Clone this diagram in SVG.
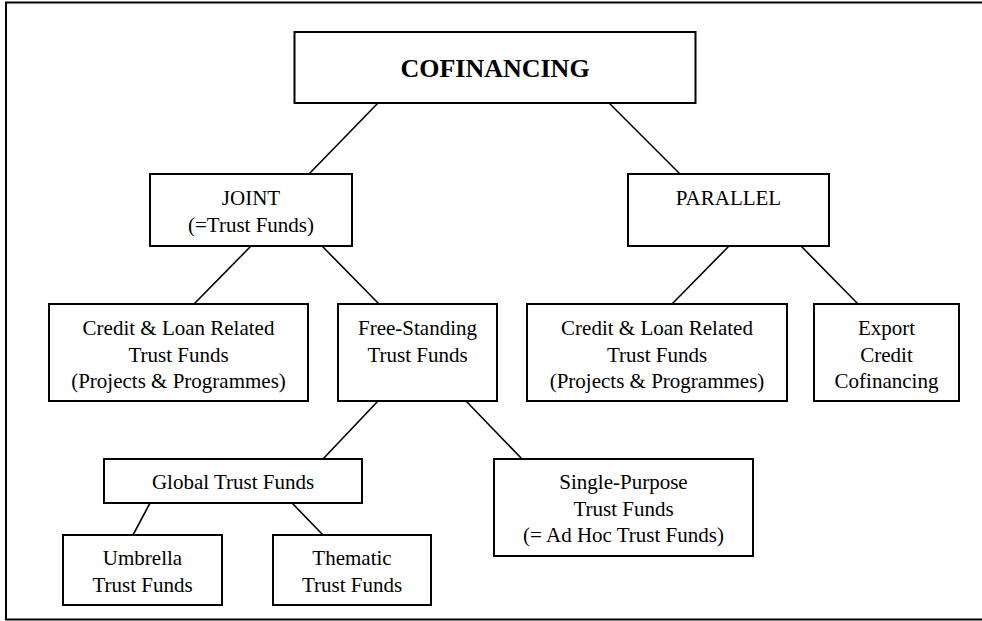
<svg xmlns="http://www.w3.org/2000/svg" width="982" height="621" viewBox="0 0 982 621">
<style>
.b{fill:#fff;stroke:#000;stroke-width:2}
.t{font-family:"Liberation Serif","Times New Roman",serif;font-size:21px;fill:#000;text-anchor:middle}
.h{font-family:"Liberation Serif","Times New Roman",serif;font-size:26px;font-weight:bold;fill:#000;text-anchor:middle}
.c line{stroke:#000;stroke-width:1.6}
</style>
<rect x="0" y="0" width="982" height="621" fill="#fff"/>
<rect x="6" y="2.5" width="980" height="617" fill="none" stroke="#000" stroke-width="2"/>
<g class="c" id="connectors">
<line x1="378" y1="103" x2="309" y2="174"/>
<line x1="609" y1="103" x2="680" y2="174"/>
<line x1="251" y1="246" x2="194" y2="304"/>
<line x1="322" y1="246" x2="379" y2="304"/>
<line x1="729" y1="246" x2="672" y2="304"/>
<line x1="801" y1="246" x2="858" y2="304"/>
<line x1="378" y1="401" x2="323" y2="459"/>
<line x1="466" y1="401" x2="522" y2="459"/>
<line x1="150" y1="503" x2="133" y2="535"/>
<line x1="292" y1="503" x2="323" y2="535"/>
</g>
<g id="cofinancing"><rect class="b" x="294.5" y="32" width="401" height="71"/><text class="h" x="495" y="77">COFINANCING</text></g>
<g id="joint"><rect class="b" x="150" y="174" width="202" height="72"/><text class="t" x="251" y="205">JOINT</text><text class="t" x="251" y="232">(=Trust Funds)</text></g>
<g id="parallel"><rect class="b" x="628" y="174" width="201" height="72"/><text class="t" x="728.5" y="205">PARALLEL</text></g>
<g id="credit-joint"><rect class="b" x="49" y="304" width="259" height="97"/><text class="t" x="178.5" y="335">Credit &amp; Loan Related</text><text class="t" x="178.5" y="361.5">Trust Funds</text><text class="t" x="178.5" y="388">(Projects &amp; Programmes)</text></g>
<g id="free-standing"><rect class="b" x="338" y="304" width="159" height="97"/><text class="t" x="417.5" y="335">Free-Standing</text><text class="t" x="417.5" y="361.5">Trust Funds</text></g>
<g id="credit-parallel"><rect class="b" x="527" y="304" width="260" height="97"/><text class="t" x="657" y="335">Credit &amp; Loan Related</text><text class="t" x="657" y="361.5">Trust Funds</text><text class="t" x="657" y="388">(Projects &amp; Programmes)</text></g>
<g id="export"><rect class="b" x="814" y="304" width="145" height="97"/><text class="t" x="886.5" y="335">Export</text><text class="t" x="886.5" y="361.5">Credit</text><text class="t" x="886.5" y="388">Cofinancing</text></g>
<g id="global"><rect class="b" x="104" y="459" width="258" height="44"/><text class="t" x="233" y="489">Global Trust Funds</text></g>
<g id="single-purpose"><rect class="b" x="494" y="459" width="259" height="97"/><text class="t" x="623.5" y="489">Single-Purpose</text><text class="t" x="623.5" y="515.5">Trust Funds</text><text class="t" x="623.5" y="542">(= Ad Hoc Trust Funds)</text></g>
<g id="umbrella"><rect class="b" x="63" y="535" width="159" height="70"/><text class="t" x="142.5" y="565">Umbrella</text><text class="t" x="142.5" y="591.5">Trust Funds</text></g>
<g id="thematic"><rect class="b" x="273" y="535" width="158" height="70"/><text class="t" x="352" y="565">Thematic</text><text class="t" x="352" y="591.5">Trust Funds</text></g>
</svg>
